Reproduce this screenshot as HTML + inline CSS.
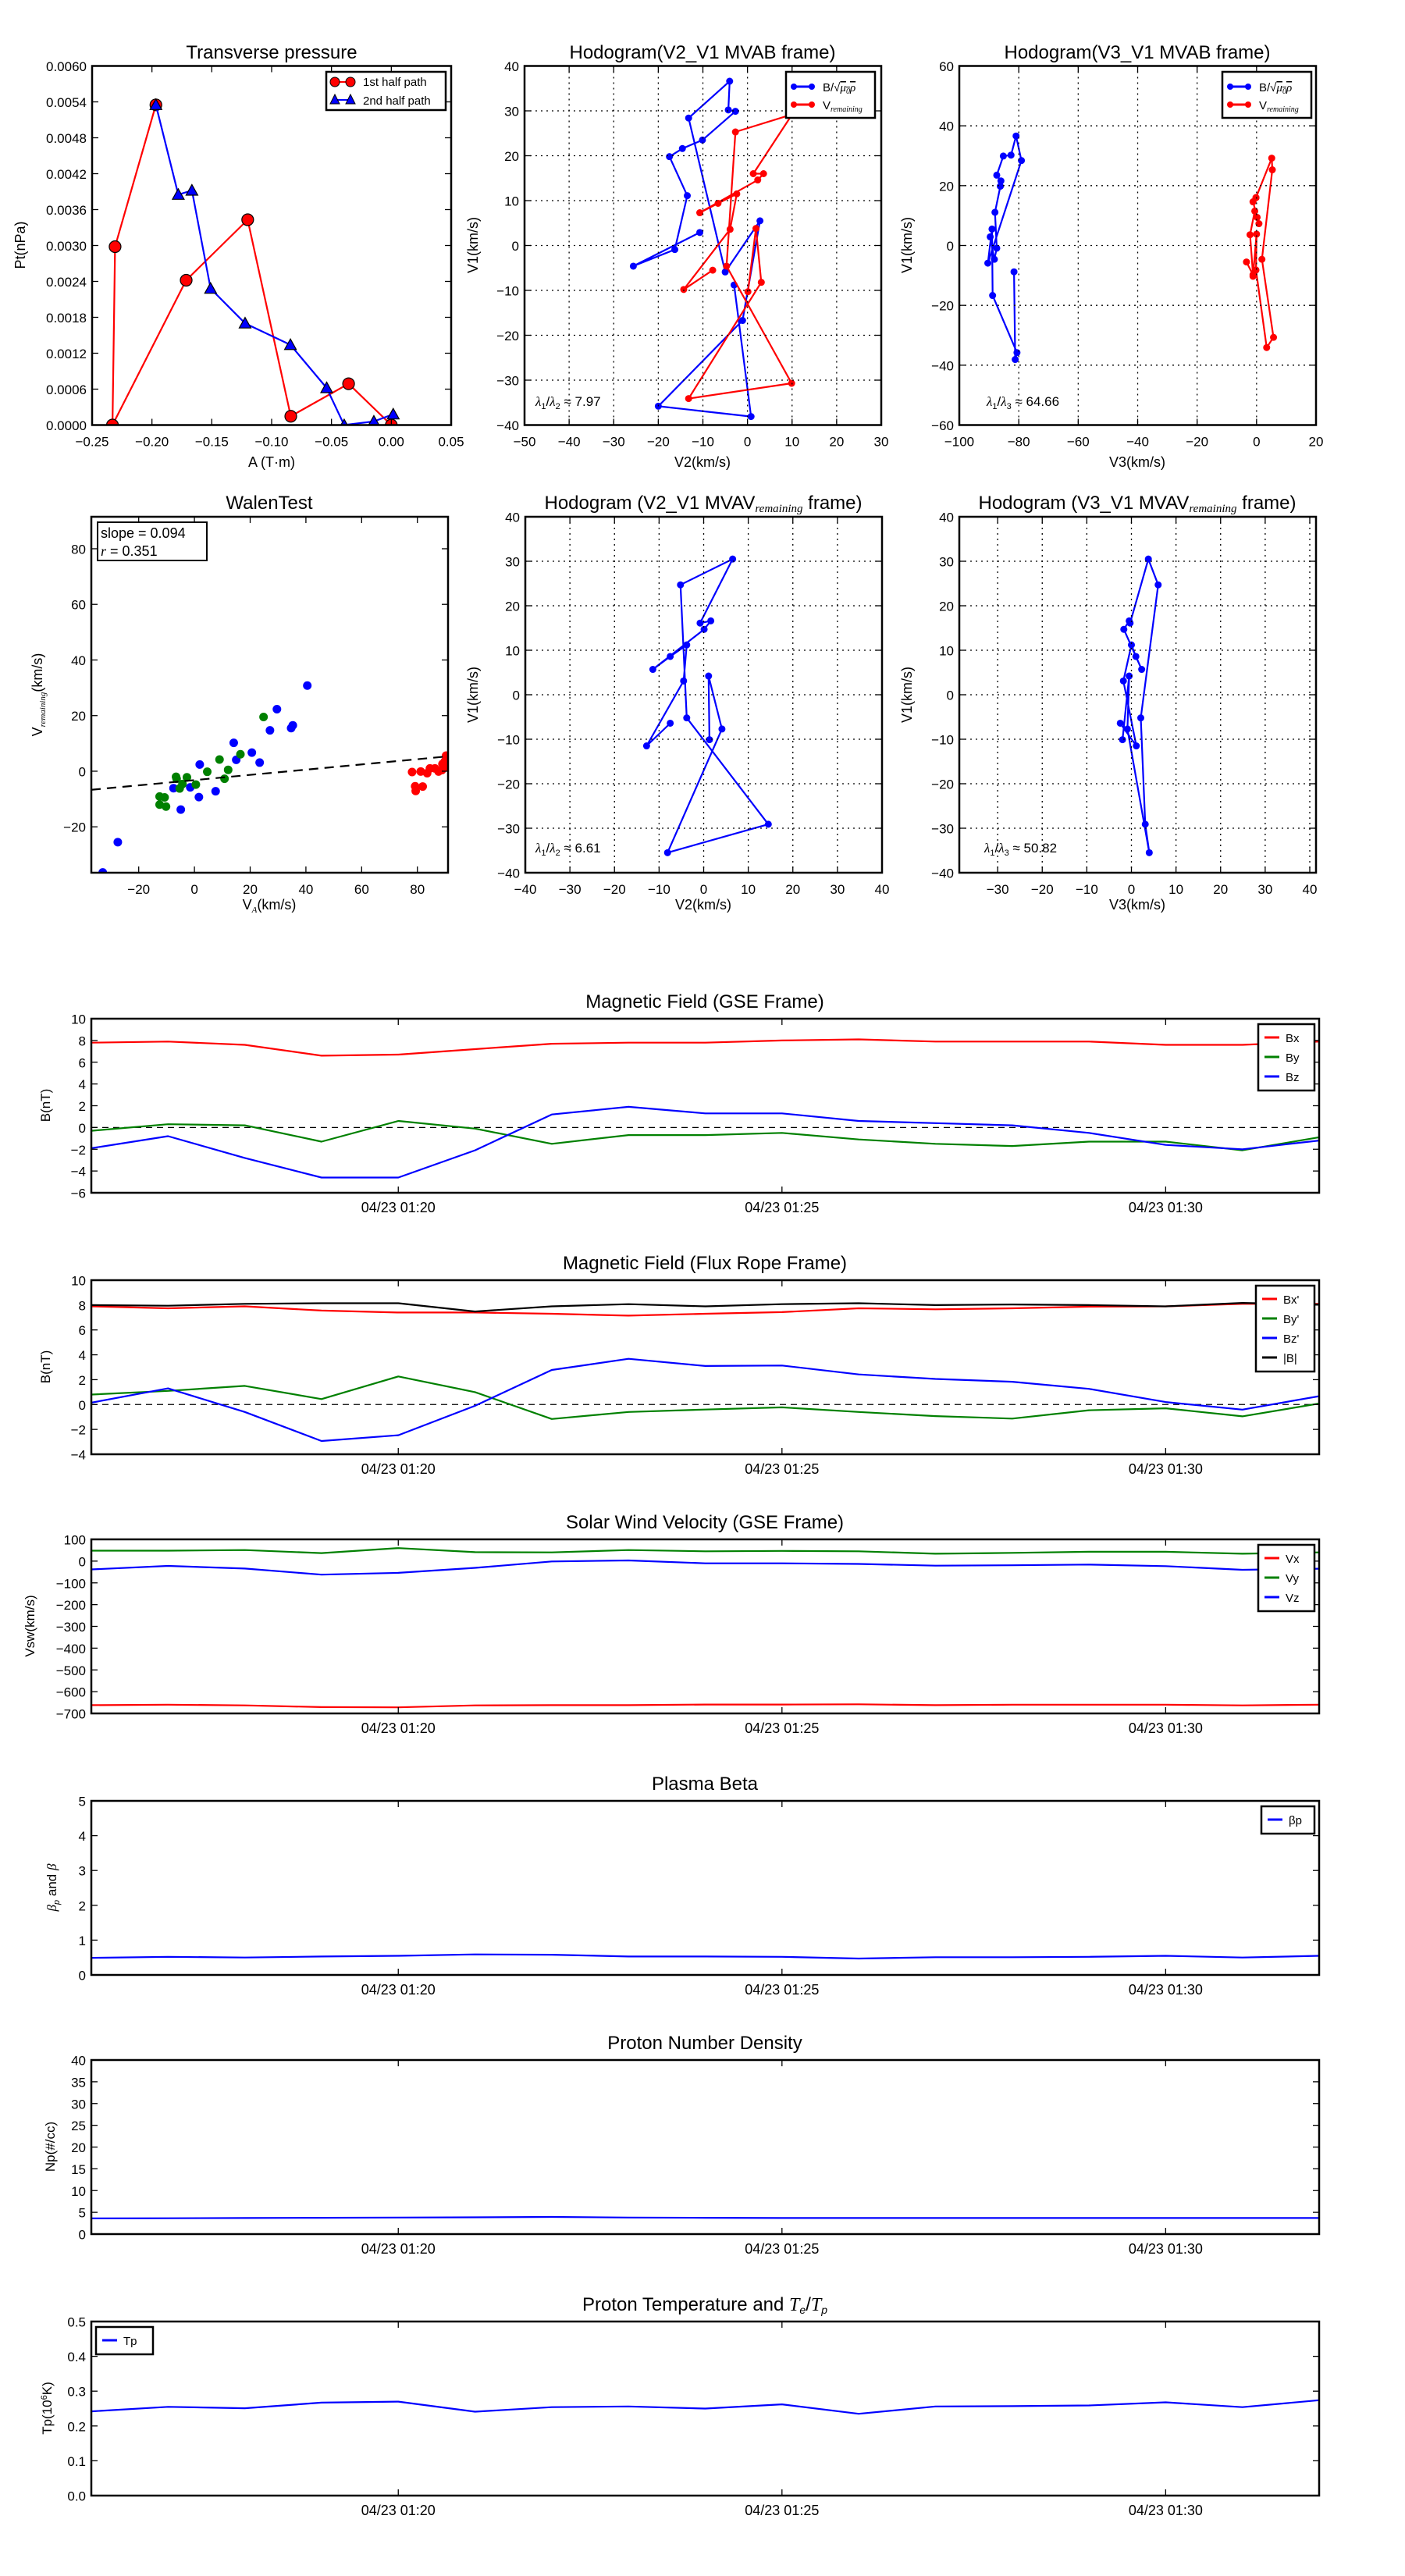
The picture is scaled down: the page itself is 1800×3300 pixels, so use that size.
<!DOCTYPE html>
<html><head><meta charset="utf-8"><style>
html,body{margin:0;padding:0;background:#fff;}
svg{display:block;font-family:"Liberation Sans","DejaVu Sans",sans-serif;}
</style></head><body>
<svg id="fig" width="1800" height="3300" viewBox="0 0 1800 3300" xmlns="http://www.w3.org/2000/svg"></svg>
<script>
// ---------- data ----------
const ptRedA=[-0.1967,-0.2308,-0.233,-0.1714,-0.120,-0.084,-0.0357,0.0];
const ptRedP=[0.00535,0.00298,0.0,0.00242,0.00343,0.000147,0.00069,0.0];
const ptBlueA=[-0.1967,-0.178,-0.1666,-0.151,-0.1222,-0.0843,-0.054,-0.0394,-0.0146,0.0016];
const ptBlueP=[0.00535,0.00385,0.00392,0.00228,0.0017,0.00134,0.00062,0.0,0.00006,0.00018];

const mvabBV1=[2.9,-4.6,-0.9,11.1,19.8,21.6,23.5,29.9,30.2,36.6,28.4,-5.9,5.5,-16.7,-35.8,-38.1,-8.8];
const mvabBV2=[-10.7,-25.6,-16.3,-13.5,-17.5,-14.6,-10.1,-2.7,-4.3,-4.0,-13.2,-5.0,2.8,-1.1,-20,0.8,-3.0];
const mvabBV3=[-89.6,-88.2,-87.4,-88.0,-86.2,-86.0,-87.4,-85.2,-82.6,-80.9,-79.1,-90.4,-89.0,-88.8,-80.6,-81.2,-81.6];
const mvabRV1=[-5.5,-9.8,3.6,11.5,9.4,7.3,14.6,16.0,16.0,29.2,25.3,-4.6,-30.7,-34.1,-8.2,3.8,-10.3];
const mvabRV2=[-7.8,-14.3,-3.9,-2.4,-6.6,-10.7,2.3,3.6,1.3,10,-2.7,-4.7,9.9,-13.2,3.1,1.9,0.1];
const mvabRV3=[-3.4,-1.2,-2.2,-0.6,0.2,0.8,-1.2,-0.2,-0.2,5.1,5.3,1.8,5.7,3.4,-0.2,0,-1.2];

const mvavV1=[-6.4,-11.5,3.1,11.2,8.6,5.7,14.7,16.6,16.1,30.5,24.7,-5.2,-29.1,-35.5,-7.7,4.2,-10.1];
const mvavV2=[-7.5,-12.8,-4.5,-3.8,-7.5,-11.4,0.1,1.6,-0.8,6.5,-5.2,-3.8,14.5,-8.1,4.1,1.1,1.3];
const mvavV3=[-2.5,1.1,-1.8,0,1.0,2.3,-1.7,-0.5,-0.3,3.8,6.0,2.1,3.1,4.0,-0.9,-0.5,-2.0];

const walenBlueX=[-32.9,-27.5,-7.5,-4.9,-1.5,1.6,1.9,7.6,14.1,15.0,20.6,23.4,27.1,29.6,34.7,35.3,40.5];
const walenBlueY=[-36.4,-25.5,-6.1,-13.8,-5.8,-9.3,2.4,-7.2,10.2,4.1,6.7,3.1,14.7,22.3,15.5,16.5,30.8];
const walenGreenX=[-12.5,-12.5,-10.7,-10.2,-6.6,-6.4,-5.3,-2.7,-4.3,0.5,4.6,9.0,10.8,12.1,16.5,24.8];
const walenGreenY=[-9.1,-12,-9.4,-12.7,-2,-2.7,-6.2,-2.2,-4.6,-4.8,-0.2,4.2,-2.7,0.5,6.1,19.5];
const walenRedX=[79.2,79.4,81.9,78.1,81.2,83.5,84.5,86.3,87.6,88.8,89.0,89.9,90.3,90.6,90.9];
const walenRedY=[-5.4,-7.1,-5.5,-0.3,-0.1,-0.7,1.0,1.0,-0.1,0.4,2.6,3.6,5.6,2.6,1.6];
const walenSlope=0.094, walenIntercept=-3.2;

const timeLabels=["01:16","01:17","01:18","01:19","01:20","01:21","01:22","01:23","01:24","01:25","01:26","01:27","01:28","01:29","01:30","01:31","01:32"];
const xTickIdx=[4,9,14];
const xTickText=["04/23 01:20","04/23 01:25","04/23 01:30"];
const gseBx=[7.8,7.9,7.6,6.6,6.7,7.2,7.7,7.8,7.8,8.0,8.1,7.9,7.9,7.9,7.6,7.6,7.9];
const gseBy=[-0.3,0.3,0.2,-1.3,0.6,-0.1,-1.5,-0.7,-0.7,-0.5,-1.1,-1.5,-1.7,-1.3,-1.3,-2.1,-0.9];
const gseBz=[-1.9,-0.8,-2.8,-4.6,-4.6,-2.1,1.2,1.9,1.3,1.3,0.6,0.4,0.2,-0.5,-1.6,-2.0,-1.2];
const frBx=[7.9,7.74,7.9,7.56,7.4,7.4,7.3,7.15,7.3,7.43,7.74,7.66,7.74,7.87,7.9,8.1,8.1];
const frBy=[0.8,1.1,1.5,0.44,2.26,1.0,-1.16,-0.6,-0.4,-0.23,-0.6,-0.93,-1.13,-0.46,-0.3,-0.95,0.08];
const frBz=[0.15,1.3,-0.6,-2.93,-2.47,-0.1,2.78,3.68,3.1,3.14,2.42,2.06,1.83,1.26,0.2,-0.41,0.67];
const frBt=[8.0,7.95,8.1,8.15,8.15,7.48,7.9,8.07,7.9,8.07,8.15,8.0,8.05,8.0,7.9,8.17,8.05];
const vx=[-662,-660,-663,-671,-672,-663,-662,-662,-659,-659,-658,-662,-660,-660,-660,-663,-660];
const vy=[48,48,51,37,60,41,40,51,45,47,45,34,38,43,43,34,40];
const vz=[-38,-22,-34,-62,-54,-31,-1.5,3,-10,-10,-13,-21,-19,-16,-23,-40,-35];
const betaP=[0.49,0.52,0.50,0.53,0.55,0.59,0.58,0.53,0.53,0.52,0.47,0.51,0.51,0.52,0.55,0.50,0.55];
const np=[3.6,3.65,3.7,3.75,3.8,3.85,3.95,3.8,3.75,3.7,3.7,3.7,3.7,3.7,3.7,3.7,3.7];
const tp=[0.242,0.255,0.251,0.267,0.270,0.241,0.254,0.256,0.25,0.262,0.235,0.256,0.257,0.259,0.268,0.254,0.274];

// ---------- helpers ----------
const svg=document.getElementById('fig');
const NS='http://www.w3.org/2000/svg';
function mk(tag,attrs,parent){const e=document.createElementNS(NS,tag);for(const k in attrs)e.setAttribute(k,attrs[k]);(parent||svg).appendChild(e);return e;}
function txt(s,x,y,size,anchor,parent,extra){const e=mk('text',Object.assign({x:x,y:y,'font-size':size,'text-anchor':anchor||'middle',fill:'#000'},extra||{}),parent);e.textContent=s;return e;}
function fmtNeg(s){return String(s).replace('-','\u2212');}

function makeAxes(name,L,T,R,B,x0,x1,y0,y1){
  const g=mk('g',{});
  
  
  const ax={g:g,L:L,T:T,R:R,B:B,
    sx:v=>L+(v-x0)/(x1-x0)*(R-L),
    sy:v=>B-(v-y0)/(y1-y0)*(B-T)};
  const cid='clip-'+name;
  const cp=mk('clipPath',{id:cid},g);
  mk('rect',{x:L,y:T,width:R-L,height:B-T},cp);
  ax.plot=mk('g',{'clip-path':'url(#'+cid+')'},g);
  
  
  return ax;
}
function frame(ax){
  const r=mk('rect',{x:ax.L,y:ax.T,width:ax.R-ax.L,height:ax.B-ax.T,fill:'none',stroke:'#000','stroke-width':2.5},ax.g);
  
  
}
function xticks(ax,vals,labels,size,grid,dy){
  vals.forEach((v,i)=>{const x=ax.sx(v);
    if(grid){const gl=mk('line',{x1:x,x2:x,y1:ax.T,y2:ax.B,stroke:'#000','stroke-width':1.3,'stroke-dasharray':'2,5'},ax.g);}
    const t1=mk('line',{x1:x,x2:x,y1:ax.B,y2:ax.B-8,stroke:'#000','stroke-width':1.3},ax.g);
    
    
    const t2=mk('line',{x1:x,x2:x,y1:ax.T,y2:ax.T+8,stroke:'#000','stroke-width':1.3},ax.g);
    
    
    const lb=txt(labels[i],x,ax.B+(dy||27),size,'middle',ax.g);
    
    
  });
}
function yticks(ax,vals,labels,size,grid){
  vals.forEach((v,i)=>{const y=ax.sy(v);
    if(grid){const gl=mk('line',{x1:ax.L,x2:ax.R,y1:y,y2:y,stroke:'#000','stroke-width':1.3,'stroke-dasharray':'2,5'},ax.g);}
    const t1=mk('line',{x1:ax.L,x2:ax.L+8,y1:y,y2:y,stroke:'#000','stroke-width':1.3},ax.g);
    
    
    const t2=mk('line',{x1:ax.R,x2:ax.R-8,y1:y,y2:y,stroke:'#000','stroke-width':1.3},ax.g);
    
    
    const lb=txt(labels[i],ax.L-7,y+6.5,size,'end',ax.g);
    
    
  });
}
function title(s,x,y,size){const t=txt(s,x,y,size||24,'middle');return t;}
function ylabel(s,x,y,size){const t=txt(s,x,y,size||18,'middle',null,{transform:'rotate(-90 '+x+' '+y+')'});return t;}
function xlabel(s,x,y,size){const t=txt(s,x,y,size||18,'middle');return t;}
function series(ax,xs,ys,color,name,width){
  const pts=xs.map((v,i)=>ax.sx(v).toFixed(1)+','+ax.sy(ys[i]).toFixed(1)).join(' ');
  const p=mk('polyline',{points:pts,fill:'none',stroke:color,'stroke-width':width||2.5,'stroke-linejoin':'round'},ax.plot);
  
  
  return p;
}
function dots(ax,xs,ys,color,r,name,stroke){
  xs.forEach((v,i)=>{
    const c=mk('circle',{cx:ax.sx(v),cy:ax.sy(ys[i]),r:r,fill:color,stroke:stroke||'none','stroke-width':stroke?1.2:0},ax.plot);
    
    
  });
}
function tris(ax,xs,ys,color,s,name){
  xs.forEach((v,i)=>{const x=ax.sx(v),y=ax.sy(ys[i]);
    const p=mk('polygon',{points:(x)+','+(y-s)+' '+(x-s)+','+(y+s*0.8)+' '+(x+s)+','+(y+s*0.8),fill:color,stroke:'#000','stroke-width':1.2},ax.plot);
    
    
  });
}
function rng(a,b,s){const o=[];for(let v=a;v<=b+1e-9;v+=s)o.push(Math.round(v*1e6)/1e6);return o;}
function legendBox(x,y,w,h,name){const r=mk('rect',{x:x,y:y,width:w,height:h,fill:'#fff',stroke:'#000','stroke-width':2.5});return r;}
function legLine(x1,x2,y,color,w){const l=mk('line',{x1:x1,x2:x2,y1:y,y2:y,stroke:color,'stroke-width':w||3});return l;}

// ---------- Transverse pressure ----------
(function(){
  const ax=makeAxes('transverse-pressure-chart',118,84.5,578,544.5,-0.25,0.05,0,0.006);
  title('Transverse pressure',348,75);
  const xt=rng(-0.25,0.05,0.05);
  xticks(ax,xt,xt.map(v=>fmtNeg(v.toFixed(2))),17);
  const yt=rng(0,0.006,0.0006);
  yticks(ax,yt,yt.map(v=>v.toFixed(4)),17);
  series(ax,ptRedA,ptRedP,'#f00','first-half-path-line',2.2);
  dots(ax,ptRedA,ptRedP,'#f00',7.5,'first-half-point','#000');
  series(ax,ptBlueA,ptBlueP,'#00f','second-half-path-line',2.2);
  tris(ax,ptBlueA,ptBlueP,'#00f',7.5,'second-half-point');
  frame(ax);
  xlabel('A (T\u00b7m)',348,598);
  ylabel('Pt(nPa)',32,314);
  legendBox(418,92,153,49,'pressure-legend');
  legLine(428,450,105,'#f00',2);
  let c=mk('circle',{cx:429,cy:105,r:6,fill:'#f00',stroke:'#000'});
  c=mk('circle',{cx:449,cy:105,r:6,fill:'#f00',stroke:'#000'});
  let t=txt('1st half path',465,110,15,'start');
  legLine(428,450,128,'#00f',2);
  let p=mk('polygon',{points:'429,121 423,133 435,133',fill:'#00f',stroke:'#000'});
  p=mk('polygon',{points:'449,121 443,133 455,133',fill:'#00f',stroke:'#000'});
  t=txt('2nd half path',465,134,15,'start');
})();

function hodoLegend(x,y,w,h,twoSeries){
  legendBox(x,y,w,h,'hodogram-legend');
  legLine(x+8,x+35,y+19,'#00f',3);
  let c=mk('circle',{cx:x+10,cy:y+19,r:4,fill:'#00f'});
  c=mk('circle',{cx:x+33,cy:y+19,r:4,fill:'#00f'});
  const t=mk('text',{x:x+47,y:y+25,'font-size':15,fill:'#000'});
  
  
  t.innerHTML='B/\u221a<tspan font-style="italic" font-family="Liberation Serif, serif" text-decoration="overline">\u03bc<tspan font-size="10" dy="3">0</tspan><tspan dy="-3">\u03c1</tspan></tspan>';
  legLine(x+8,x+35,y+42,'#f00',3);
  c=mk('circle',{cx:x+10,cy:y+42,r:4,fill:'#f00'});
  c=mk('circle',{cx:x+33,cy:y+42,r:4,fill:'#f00'});
  const t2=mk('text',{x:x+47,y:y+48,'font-size':15,fill:'#000'});
  
  
  t2.innerHTML='V<tspan font-size="10" dy="3" font-style="italic" font-family="Liberation Serif, serif">remaining</tspan>';
}
function lambdaText(x,y,a,b,val,name){
  const t=mk('text',{x:x,y:y,'font-size':17,fill:'#000'});
  
  
  t.innerHTML='<tspan font-style="italic" font-family="Liberation Serif, serif">\u03bb</tspan><tspan font-size="11" dy="4">'+a+'</tspan><tspan dy="-4">/</tspan><tspan font-style="italic" font-family="Liberation Serif, serif">\u03bb</tspan><tspan font-size="11" dy="4">'+b+'</tspan><tspan dy="-4"> \u2248 '+val+'</tspan>';
}

// ---------- Hodogram V2_V1 MVAB ----------
(function(){
  const ax=makeAxes('hodogram-v2-v1-mvab',672,84.5,1129,544.5,-50,30,-40,40);
  title('Hodogram(V2_V1 MVAB frame)',900,75);
  const xt=rng(-50,30,10);xticks(ax,xt,xt.map(v=>fmtNeg(v)),17,true);
  const yt=rng(-40,40,10);yticks(ax,yt,yt.map(v=>fmtNeg(v)),17,true);
  series(ax,mvabBV2,mvabBV1,'#00f','b-field-path',2.2);dots(ax,mvabBV2,mvabBV1,'#00f',4.5,'b-field-point');
  series(ax,mvabRV2,mvabRV1,'#f00','v-remaining-path',2.2);dots(ax,mvabRV2,mvabRV1,'#f00',4.5,'v-remaining-point');
  frame(ax);
  hodoLegend(1007,92,114,59);
  lambdaText(686,520,'1','2','7.97','eigenvalue-ratio-label');
  xlabel('V2(km/s)',900,598);ylabel('V1(km/s)',612,314);
})();
// ---------- Hodogram V3_V1 MVAB ----------
(function(){
  const ax=makeAxes('hodogram-v3-v1-mvab',1229,84.5,1686,544.5,-100,20,-60,60);
  title('Hodogram(V3_V1 MVAB frame)',1457,75);
  const xt=rng(-100,20,20);xticks(ax,xt,xt.map(v=>fmtNeg(v)),17,true);
  const yt=rng(-60,60,20);yticks(ax,yt,yt.map(v=>fmtNeg(v)),17,true);
  series(ax,mvabBV3,mvabBV1,'#00f','b-field-path',2.2);dots(ax,mvabBV3,mvabBV1,'#00f',4.5,'b-field-point');
  series(ax,mvabRV3,mvabRV1,'#f00','v-remaining-path',2.2);dots(ax,mvabRV3,mvabRV1,'#f00',4.5,'v-remaining-point');
  frame(ax);
  hodoLegend(1566,92,114,59);
  lambdaText(1264,520,'1','3','64.66','eigenvalue-ratio-label');
  xlabel('V3(km/s)',1457,598);ylabel('V1(km/s)',1168,314);
})();

// ---------- Walen test ----------
(function(){
  const ax=makeAxes('walen-test-chart',117,662,574,1118,-37,91,-36.5,91.5);
  title('WalenTest',345,652);
  const xt=rng(-20,80,20);xticks(ax,xt,xt.map(v=>fmtNeg(v)),17);
  const yt=rng(-20,80,20);yticks(ax,yt,yt.map(v=>fmtNeg(v)),17);
  dots(ax,walenBlueX,walenBlueY,'#00f',5.5,'walen-point-x');
  dots(ax,walenGreenX,walenGreenY,'#008000',5.5,'walen-point-y');
  dots(ax,walenRedX,walenRedY,'#f00',5.5,'walen-point-z');
  const l=mk('line',{x1:ax.sx(-37),y1:ax.sy(walenSlope*-37+walenIntercept),x2:ax.sx(91),y2:ax.sy(walenSlope*91+walenIntercept),stroke:'#000','stroke-width':2.2,'stroke-dasharray':'12,8'},ax.plot);
  
  
  frame(ax);
  const b=mk('rect',{x:125,y:669,width:140,height:49,fill:'#fff',stroke:'#000','stroke-width':2});
  
  
  let t=txt('slope = 0.094',129,689,18,'start');
  t=mk('text',{x:129,y:712,'font-size':18,fill:'#000'});
  t.innerHTML='<tspan font-style="italic" font-family="Liberation Serif, serif">r</tspan> = 0.351';
  const xl=mk('text',{x:345,y:1165,'font-size':18,'text-anchor':'middle',fill:'#000'});
  xl.innerHTML='V<tspan font-size="11" dy="4" font-style="italic" font-family="Liberation Serif, serif">A</tspan><tspan dy="-4">(km/s)</tspan>';
  const yl=mk('text',{x:54,y:890,'font-size':18,'text-anchor':'middle',fill:'#000',transform:'rotate(-90 54 890)'});
  yl.innerHTML='V<tspan font-size="11" dy="4" font-style="italic" font-family="Liberation Serif, serif">remaining</tspan><tspan dy="-4">(km/s)</tspan>';
})();

// ---------- Hodogram V2_V1 MVAV ----------
function mvavTitle(s,x){const t=mk('text',{x:x,y:652,'font-size':24,'text-anchor':'middle',fill:'#000'});
  t.innerHTML='Hodogram ('+s+' MVAV<tspan font-size="15" dy="4" font-style="italic" font-family="Liberation Serif, serif">remaining</tspan><tspan dy="-4"> frame)</tspan>';}
(function(){
  const ax=makeAxes('hodogram-v2-v1-mvav',673,662,1130,1118,-40,40,-40,40);
  mvavTitle('V2_V1',901);
  const xt=rng(-40,40,10);xticks(ax,xt,xt.map(v=>fmtNeg(v)),17,true);
  const yt=rng(-40,40,10);yticks(ax,yt,yt.map(v=>fmtNeg(v)),17,true);
  series(ax,mvavV2,mvavV1,'#00f','v-remaining-path',2.2);dots(ax,mvavV2,mvavV1,'#00f',4.5,'v-remaining-point');
  frame(ax);
  lambdaText(686,1092,'1','2','6.61','eigenvalue-ratio-label');
  xlabel('V2(km/s)',901,1165);ylabel('V1(km/s)',612,890);
})();
(function(){
  const ax=makeAxes('hodogram-v3-v1-mvav',1229,662,1686,1118,-38.6,41.4,-40,40);
  mvavTitle('V3_V1',1457);
  const xt=rng(-30,40,10);xticks(ax,xt,xt.map(v=>fmtNeg(v)),17,true);
  const yt=rng(-40,40,10);yticks(ax,yt,yt.map(v=>fmtNeg(v)),17,true);
  series(ax,mvavV3,mvavV1,'#00f','v-remaining-path',2.2);dots(ax,mvavV3,mvavV1,'#00f',4.5,'v-remaining-point');
  frame(ax);
  lambdaText(1261,1092,'1','3','50.82','eigenvalue-ratio-label');
  xlabel('V3(km/s)',1457,1165);ylabel('V1(km/s)',1168,890);
})();

// ---------- time series ----------
const tIdx=timeLabels.map((s,i)=>i);
function tsPanel(name,ttl,top,y0,y1,ystep,ydec,ylab,ylabX,lines,legend,zeroLine){
  const ax=makeAxes(name,117,top,1690,top+223,0,16,y0,y1);
  if(typeof ttl==='string')title(ttl,903,top-14);else ttl(top);
  xticks(ax,xTickIdx,xTickText,18,false,25);
  const yt=rng(y0,y1,ystep);yticks(ax,yt,yt.map(v=>fmtNeg(v.toFixed(ydec))),17);
  if(zeroLine){const z=mk('line',{x1:ax.L,x2:ax.R,y1:ax.sy(0),y2:ax.sy(0),stroke:'#000','stroke-width':1.3,'stroke-dasharray':'8,6'},ax.plot);}
  lines.forEach(l=>series(ax,tIdx,l.d,l.c,l.n,2.2));
  frame(ax);
  if(typeof ylab==='string')ylabel(ylab,ylabX,top+111,17);else ylab(top);
  if(legend){
    const lx=legend.x, ly=top+legend.dy;
    legendBox(lx,ly,legend.w,legend.items.length*25+10,name+'-legend');
    legend.items.forEach((it,i)=>{
      legLine(lx+8,lx+27,ly+17+i*25,it.c,3);
      const t=txt(it.t,lx+35,ly+23+i*25,15,'start');
      
      
    });
  }
}
tsPanel('magnetic-field-gse-chart','Magnetic Field (GSE Frame)',1305,-6,10,2,0,'B(nT)',64,
  [{d:gseBx,c:'#f00',n:'bx-line'},{d:gseBy,c:'#008000',n:'by-line'},{d:gseBz,c:'#00f',n:'bz-line'}],
  {x:1612,dy:7,w:72,items:[{t:'Bx',c:'#f00'},{t:'By',c:'#008000'},{t:'Bz',c:'#00f'}]},true);
tsPanel('magnetic-field-flux-rope-chart','Magnetic Field (Flux Rope Frame)',1640,-4,10,2,0,'B(nT)',64,
  [{d:frBx,c:'#f00',n:'bx-prime-line'},{d:frBy,c:'#008000',n:'by-prime-line'},{d:frBz,c:'#00f',n:'bz-prime-line'},{d:frBt,c:'#000',n:'b-magnitude-line'}],
  {x:1609,dy:7,w:75,items:[{t:"Bx'",c:'#f00'},{t:"By'",c:'#008000'},{t:"Bz'",c:'#00f'},{t:'|B|',c:'#000'}]},true);
tsPanel('solar-wind-velocity-chart','Solar Wind Velocity (GSE Frame)',1972,-700,100,100,0,'Vsw(km/s)',44,
  [{d:vx,c:'#f00',n:'vx-line'},{d:vy,c:'#008000',n:'vy-line'},{d:vz,c:'#00f',n:'vz-line'}],
  {x:1612,dy:7,w:72,items:[{t:'Vx',c:'#f00'},{t:'Vy',c:'#008000'},{t:'Vz',c:'#00f'}]},false);
tsPanel('plasma-beta-chart','Plasma Beta',2307,0,5,1,0,function(top){
    const x=72,y=top+111;const t=mk('text',{x:x,y:y,'font-size':17,'text-anchor':'middle',fill:'#000',transform:'rotate(-90 '+x+' '+y+')'});
    
    
    t.innerHTML='<tspan font-style="italic" font-family="Liberation Serif, serif">\u03b2</tspan><tspan font-size="11" dy="4" font-style="italic">p</tspan><tspan dy="-4"> and </tspan><tspan font-style="italic" font-family="Liberation Serif, serif">\u03b2</tspan>';},0,
  [{d:betaP,c:'#00f',n:'beta-p-line'}],
  {x:1616,dy:7,w:68,items:[{t:'\u03b2p',c:'#00f'}]},false);
tsPanel('proton-density-chart','Proton Number Density',2639,0,40,5,0,'Np(#/cc)',70,
  [{d:np,c:'#00f',n:'np-line'}],null,false);
tsPanel('proton-temperature-chart',function(top){
    const t=mk('text',{x:903,y:top-14,'font-size':24,'text-anchor':'middle',fill:'#000'});
    
    
    t.innerHTML='Proton Temperature and <tspan font-style="italic" font-family="Liberation Serif, serif">T</tspan><tspan font-size="14" dy="4" font-style="italic">e</tspan><tspan dy="-4">/</tspan><tspan font-style="italic" font-family="Liberation Serif, serif">T</tspan><tspan font-size="14" dy="4" font-style="italic">p</tspan>';
  },2974,0,0.5,0.1,1,function(top){
    const x=66,y=top+111;const t=mk('text',{x:x,y:y,'font-size':17,'text-anchor':'middle',fill:'#000',transform:'rotate(-90 '+x+' '+y+')'});
    
    
    t.innerHTML='Tp(10<tspan font-size="11" dy="-6">6</tspan><tspan dy="6">K)</tspan>';},0,
  [{d:tp,c:'#00f',n:'tp-line'}],
  {x:123,dy:7,w:73,items:[{t:'Tp',c:'#00f'}]},false);
</script>
</body></html>
